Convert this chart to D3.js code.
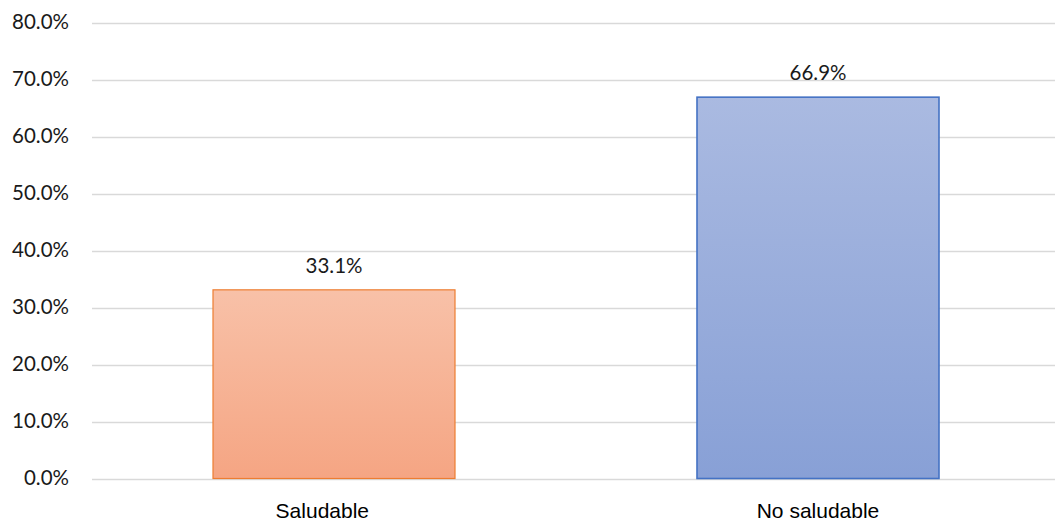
<!DOCTYPE html>
<html><head><meta charset="utf-8">
<script src="https://cdn.jsdelivr.net/npm/d3@7"></script>
<style>body{margin:0;background:#fff}</style>
</head><body>
<svg id="c" width="1055" height="523"></svg>
<script>
const categories = ["Saludable", "No saludable"];
// category tick labels as they appear (first one carries trailing spaces in the source)
const categoryLabels = ["Saludable\u00a0\u00a0\u00a0\u00a0", "No saludable"];
const values = [0.331, 0.669];
const yTicks = [0, 0.1, 0.2, 0.3, 0.4, 0.5, 0.6, 0.7, 0.8];

const svg = d3.select("#c");
const x = d3.scaleBand().domain(categories).range([92, 1060]).paddingInner(0.5).paddingOuter(0.25);
const y = d3.scaleLinear().domain([0, 0.8]).range([478.5, 22.5]);

const defs = svg.append("defs");
const grads = [["g0", "#F8C1A8", "#F5A583"], ["g1", "#AABAE1", "#88A0D6"]];
grads.forEach(([id, a, b]) => {
  const g = defs.append("linearGradient").attr("id", id).attr("x1", 0).attr("y1", 0).attr("x2", 0).attr("y2", 1);
  g.append("stop").attr("offset", "0%").attr("stop-color", a);
  g.append("stop").attr("offset", "100%").attr("stop-color", b);
});
const strokes = ["#ED7D31", "#4472C4"];

// gridlines
svg.append("g").selectAll("line").data(yTicks).join("line")
  .attr("x1", 92).attr("x2", 1055)
  .attr("y1", d => Math.round(y(d)) + 0.5).attr("y2", d => Math.round(y(d)) + 0.5)
  .attr("stroke", "#D9D9D9").attr("stroke-width", 1.5);

// y labels
svg.append("g").selectAll("text").data(yTicks).join("text")
  .attr("x", 69).attr("y", d => y(d) + 6.5)
  .attr("text-anchor", "end")
  .attr("font-family", "Lato, 'Open Sans', sans-serif").attr("font-size", 20.5).attr("fill", "#1a1a1a")
  .text(d => d3.format(".1%")(d));

// bars
svg.append("g").selectAll("rect").data(values).join("rect")
  .attr("x", (d, i) => x(categories[i]))
  .attr("y", d => y(d))
  .attr("width", x.bandwidth())
  .attr("height", d => y(0) - y(d))
  .attr("fill", (d, i) => `url(#g${i})`)
  .attr("stroke", (d, i) => strokes[i]).attr("stroke-width", (d, i) => i ? 1.6 : 1.2);

// data labels
svg.append("g").selectAll("text").data(values).join("text")
  .attr("x", (d, i) => x(categories[i]) + x.bandwidth() / 2)
  .attr("y", d => y(d) - 17)
  .attr("text-anchor", "middle")
  .attr("font-family", "Lato, 'Open Sans', sans-serif").attr("font-size", 20.5).attr("fill", "#1a1a1a")
  .text(d => d3.format(".1%")(d));

// category labels
svg.append("g").selectAll("text").data(categories).join("text")
  .attr("x", d => x(d) + x.bandwidth() / 2)
  .attr("y", 518)
  .attr("text-anchor", "middle")
  .attr("font-family", "'Liberation Sans', Arial, sans-serif").attr("font-size", 21).attr("fill", "#000")
  .text((d, i) => categoryLabels[i]);
</script>
</body></html>
